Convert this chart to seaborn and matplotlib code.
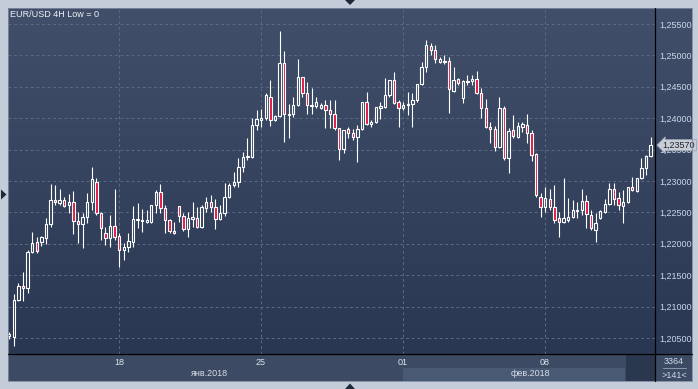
import numpy as np
import pandas as pd
import matplotlib
matplotlib.use("Agg")
import matplotlib.pyplot as plt
import matplotlib.transforms as mtransforms
from matplotlib.patches import Rectangle, Polygon
from matplotlib.colors import LinearSegmentedColormap
from matplotlib.ticker import FuncFormatter
import seaborn as sns

# ---------------- data (EUR/USD, 4H candles) ----------------
opens = [
    1.2053, 1.2052, 1.2111, 1.2133, 1.2130, 1.2187, 1.2203, 1.2203, 1.2209, 1.2232,
    1.2270, 1.2265, 1.2270, 1.2262, 1.2267, 1.2236, 1.2232, 1.2243, 1.2267, 1.2298,
    1.2249, 1.2217, 1.2209, 1.2228, 1.2212, 1.2190, 1.2195, 1.2203, 1.2238, 1.2238,
    1.2235, 1.2235, 1.2262, 1.2282, 1.2257, 1.2238, 1.2220, 1.2260, 1.2244, 1.2224,
    1.2240, 1.2241, 1.2227, 1.2257, 1.2267, 1.2259, 1.2240, 1.2249, 1.2275, 1.2294,
    1.2298, 1.2322, 1.2338, 1.2338, 1.2389, 1.2397, 1.2400, 1.2434, 1.2397, 1.2404,
    1.2488, 1.2407, 1.2407, 1.2421, 1.2466, 1.2440, 1.2421, 1.2419, 1.2416, 1.2421,
    1.2413, 1.2407, 1.2384, 1.2351, 1.2383, 1.2376, 1.2370, 1.2383, 1.2426, 1.2391,
    1.2394, 1.2416, 1.2418, 1.2437, 1.2461, 1.2426, 1.2416, 1.2421, 1.2423, 1.2429,
    1.2454, 1.2481, 1.2515, 1.2509, 1.2490, 1.2491, 1.2491, 1.2443, 1.2462, 1.2432,
    1.2459, 1.2459, 1.2462, 1.2440, 1.2416, 1.2386, 1.2383, 1.2354, 1.2416, 1.2337,
    1.2381, 1.2370, 1.2386, 1.2389, 1.2376, 1.2343, 1.2275, 1.2259, 1.2271, 1.2259,
    1.2241, 1.2235, 1.2238, 1.2243, 1.2252, 1.2254, 1.2268, 1.2246, 1.2222, 1.2241,
    1.2251, 1.2263, 1.2287, 1.2273, 1.2260, 1.2267, 1.2290, 1.2284, 1.2305, 1.2321,
    1.2340,
]
highs = [
    1.2059, 1.2120, 1.2138, 1.2155, 1.2190, 1.2219, 1.2211, 1.2212, 1.2241, 1.2295,
    1.2294, 1.2287, 1.2275, 1.2279, 1.2284, 1.2251, 1.2249, 1.2281, 1.2322, 1.2305,
    1.2251, 1.2227, 1.2246, 1.2287, 1.2217, 1.2201, 1.2217, 1.2260, 1.2265, 1.2255,
    1.2254, 1.2262, 1.2286, 1.2295, 1.2262, 1.2240, 1.2235, 1.2260, 1.2249, 1.2251,
    1.2267, 1.2259, 1.2262, 1.2275, 1.2278, 1.2271, 1.2262, 1.2297, 1.2297, 1.2314,
    1.2337, 1.2346, 1.2368, 1.2400, 1.2413, 1.2415, 1.2440, 1.2461, 1.2405, 1.2539,
    1.2507, 1.2423, 1.2434, 1.2494, 1.2466, 1.2458, 1.2448, 1.2434, 1.2424, 1.2429,
    1.2429, 1.2429, 1.2384, 1.2381, 1.2386, 1.2383, 1.2389, 1.2426, 1.2442, 1.2397,
    1.2418, 1.2426, 1.2464, 1.2461, 1.2474, 1.2429, 1.2426, 1.2442, 1.2440, 1.2454,
    1.2489, 1.2525, 1.2520, 1.2517, 1.2497, 1.2501, 1.2497, 1.2481, 1.2464, 1.2461,
    1.2469, 1.2469, 1.2475, 1.2448, 1.2431, 1.2394, 1.2388, 1.2434, 1.2419, 1.2384,
    1.2405, 1.2394, 1.2394, 1.2407, 1.2381, 1.2345, 1.2281, 1.2290, 1.2287, 1.2294,
    1.2251, 1.2305, 1.2273, 1.2270, 1.2267, 1.2287, 1.2278, 1.2254, 1.2249, 1.2254,
    1.2271, 1.2297, 1.2297, 1.2282, 1.2286, 1.2290, 1.2306, 1.2305, 1.2337, 1.2341,
    1.2370,
]
lows = [
    1.2048, 1.2037, 1.2109, 1.2109, 1.2122, 1.2185, 1.2185, 1.2197, 1.2200, 1.2227,
    1.2262, 1.2262, 1.2259, 1.2249, 1.2216, 1.2201, 1.2193, 1.2233, 1.2254, 1.2246,
    1.2206, 1.2198, 1.2195, 1.2206, 1.2163, 1.2174, 1.2187, 1.2195, 1.2225, 1.2219,
    1.2233, 1.2233, 1.2249, 1.2249, 1.2217, 1.2217, 1.2216, 1.2235, 1.2220, 1.2211,
    1.2227, 1.2225, 1.2225, 1.2251, 1.2251, 1.2224, 1.2238, 1.2244, 1.2273, 1.2290,
    1.2290, 1.2314, 1.2333, 1.2337, 1.2381, 1.2386, 1.2397, 1.2388, 1.2396, 1.2402,
    1.2362, 1.2368, 1.2402, 1.2419, 1.2434, 1.2407, 1.2407, 1.2416, 1.2415, 1.2384,
    1.2384, 1.2381, 1.2333, 1.2345, 1.2368, 1.2365, 1.2330, 1.2381, 1.2389, 1.2386,
    1.2392, 1.2399, 1.2416, 1.2434, 1.2423, 1.2386, 1.2413, 1.2405, 1.2386, 1.2426,
    1.2453, 1.2474, 1.2501, 1.2488, 1.2488, 1.2486, 1.2408, 1.2442, 1.2453, 1.2424,
    1.2453, 1.2453, 1.2438, 1.2400, 1.2384, 1.2361, 1.2348, 1.2353, 1.2333, 1.2313,
    1.2368, 1.2368, 1.2378, 1.2361, 1.2332, 1.2275, 1.2243, 1.2251, 1.2254, 1.2233,
    1.2211, 1.2233, 1.2235, 1.2241, 1.2241, 1.2246, 1.2225, 1.2222, 1.2203, 1.2240,
    1.2249, 1.2262, 1.2262, 1.2254, 1.2233, 1.2265, 1.2284, 1.2282, 1.2303, 1.2310,
    1.2338,
]
closes = [
    1.2056, 1.2111, 1.2133, 1.2130, 1.2187, 1.2201, 1.2188, 1.2211, 1.2232, 1.2270,
    1.2267, 1.2270, 1.2260, 1.2267, 1.2236, 1.2232, 1.2243, 1.2267, 1.2303, 1.2249,
    1.2225, 1.2209, 1.2228, 1.2211, 1.2190, 1.2195, 1.2204, 1.2240, 1.2240, 1.2237,
    1.2238, 1.2262, 1.2282, 1.2257, 1.2238, 1.2220, 1.2217, 1.2244, 1.2224, 1.2241,
    1.2243, 1.2227, 1.2259, 1.2267, 1.2259, 1.2240, 1.2249, 1.2275, 1.2294, 1.2298,
    1.2322, 1.2338, 1.2340, 1.2389, 1.2399, 1.2400, 1.2437, 1.2397, 1.2404, 1.2488,
    1.2407, 1.2405, 1.2421, 1.2466, 1.2440, 1.2421, 1.2419, 1.2426, 1.2421, 1.2413,
    1.2407, 1.2384, 1.2351, 1.2381, 1.2376, 1.2370, 1.2383, 1.2426, 1.2391, 1.2394,
    1.2418, 1.2419, 1.2437, 1.2461, 1.2424, 1.2416, 1.2421, 1.2423, 1.2429, 1.2454,
    1.2481, 1.2517, 1.2509, 1.2494, 1.2494, 1.2490, 1.2447, 1.2461, 1.2456, 1.2459,
    1.2458, 1.2462, 1.2440, 1.2416, 1.2386, 1.2383, 1.2354, 1.2416, 1.2337, 1.2380,
    1.2372, 1.2388, 1.2391, 1.2376, 1.2341, 1.2278, 1.2259, 1.2273, 1.2259, 1.2238,
    1.2235, 1.2241, 1.2243, 1.2254, 1.2254, 1.2268, 1.2247, 1.2225, 1.2233, 1.2252,
    1.2263, 1.2287, 1.2271, 1.2262, 1.2267, 1.2290, 1.2286, 1.2305, 1.2321, 1.2340,
    1.2357,
]

date_tick_pos = [23.95, 54.95, 85.95, 116.95]
date_tick_labels = ["18", "25", "01", "08"]
month_labels = ["янв.2018", "фев.2018"]
price_ticks = [1.205, 1.210, 1.215, 1.220, 1.225, 1.230, 1.235, 1.240, 1.245, 1.250, 1.255]
last_price = 1.2357
title_text = "EUR/USD 4H Low = 0"
bars_info = ["3364", ">141<"]

# ---------------- style ----------------
sns.set_theme(style="dark")
plt.rcParams['font.family'] = ['Liberation Sans', 'DejaVu Sans']

W, H = 698, 389
fig = plt.figure(figsize=(W / 100, H / 100), dpi=100, facecolor='#c3ccd8')

# background panel (pixel coordinates)
bg = fig.add_axes([0, 0, 1, 1], zorder=0)
bg.axis('off')
grad = LinearSegmentedColormap.from_list('g', ['#414f6a', '#2a3752'])
bg.imshow(np.linspace(0, 1, 256).reshape(-1, 1), extent=(8, 692, 354, 8),
          cmap=grad, aspect='auto', interpolation='bilinear')
bg.add_patch(Rectangle((8, 354), 684, 27, fc='#3d4a63', ec='none'))
bg.add_patch(Rectangle((403, 367.5), 222, 13, fc='#4a5973', ec='none'))
bg.add_patch(Rectangle((626, 355), 29, 26, fc='#2b374f', ec='none'))
bg.set_xlim(0, W)
bg.set_ylim(H, 0)

# main chart axes
ax = fig.add_axes([8 / W, (H - 354) / H, 647 / W, 346 / H], zorder=2)
ax.set_facecolor('none')

df = pd.DataFrame({'open': opens, 'high': highs, 'low': lows, 'close': closes})
df['i'] = np.arange(len(df))
df['top'] = df[['open', 'close']].max(axis=1)
df['bot'] = df[['open', 'close']].min(axis=1)
bull = df[df['close'] >= df['open']]
bear = df[df['close'] < df['open']]

wick_kw = dict(color='white', linewidth=0.8, zorder=3)
ax.vlines(df['i'], df['top'], df['high'], **wick_kw)
ax.vlines(df['i'], df['low'], df['bot'], **wick_kw)
ax.bar(bull['i'], bull['close'] - bull['open'], bottom=bull['open'], width=0.52,
       facecolor='none', edgecolor='white', linewidth=0.8, zorder=4)
ax.bar(bear['i'], bear['close'] - bear['open'], bottom=bear['open'], width=0.52,
       facecolor='#e3173e', edgecolor='white', linewidth=0.8, zorder=4)

ax.set_xlim(-0.28, 140.96)
ax.set_ylim(1.20245, 1.25755)
ax.set_yticks(price_ticks)
ax.set_xticks(date_tick_pos)
ax.set_xticklabels(date_tick_labels)
ax.yaxis.tick_right()
ax.yaxis.set_major_formatter(FuncFormatter(lambda v, p: f"{v:.5f}".replace('.', ',')))
ax.set_axisbelow(True)
ax.grid(True, color='#5a6984', linestyle=(0, (2.8, 2.8)), linewidth=0.72)
ax.tick_params(axis='y', length=0, pad=3.2, labelsize=6.5, labelcolor='#cad6ea')
ax.tick_params(axis='x', length=0, pad=3.0, labelsize=6.5, labelcolor='#dde3ec')
for s in ax.spines.values():
    s.set_visible(False)

# last price marker
trans = mtransforms.blended_transform_factory(ax.transAxes, ax.transData)
ax.text(1.012, last_price, f"{last_price:.5f}".replace('.', ','), transform=trans,
        ha='left', va='center', fontsize=6.5, color='#1c2431', zorder=10, clip_on=False,
        bbox=dict(boxstyle='larrow,pad=0.12', fc='#c9ced6', ec='#9aa3b0', lw=0.6))

# overlay (pixel coordinates) for frame decorations
ov = fig.add_axes([0, 0, 1, 1], zorder=5)
ov.set_facecolor('none')
ov.axis('off')
ov.set_xlim(0, W)
ov.set_ylim(H, 0)
ov.plot([655, 655], [8, 381], color='black', lw=0.9)
ov.plot([8, 692], [354, 354], color='black', lw=0.9)
ov.add_patch(Rectangle((8, 8), 684, 373, fill=False, ec='#7e8aa0', lw=0.6))
ov.text(10, 14.5, title_text, color='#eef2f8', fontsize=6.5, ha='left', va='center')
ov.text(209, 374, month_labels[0], color='#d6dde8', fontsize=6.5, ha='center', va='center')
ov.text(530, 374, month_labels[1], color='#d6dde8', fontsize=6.5, ha='center', va='center')
ov.text(674, 361.5, bars_info[0], color='#d0d8e6', fontsize=6.5, ha='center', va='center')
ov.plot([663, 686], [368, 368], color='#8a96aa', lw=0.7)
ov.text(674, 375, bars_info[1], color='#d0d8e6', fontsize=6.5, ha='center', va='center')
# navigation triangles
ov.add_patch(Polygon([(1, 189.5), (6.5, 194.5), (1, 199.5)], fc='#1d2838', ec='none'))
ov.add_patch(Polygon([(345, 0), (355, 0), (350, 5)], fc='#1d2838', ec='none'))
ov.add_patch(Polygon([(345, 389), (355, 389), (350, 383.5)], fc='#1d2838', ec='none'))

fig.savefig('out.png', dpi=100, facecolor=fig.get_facecolor())
